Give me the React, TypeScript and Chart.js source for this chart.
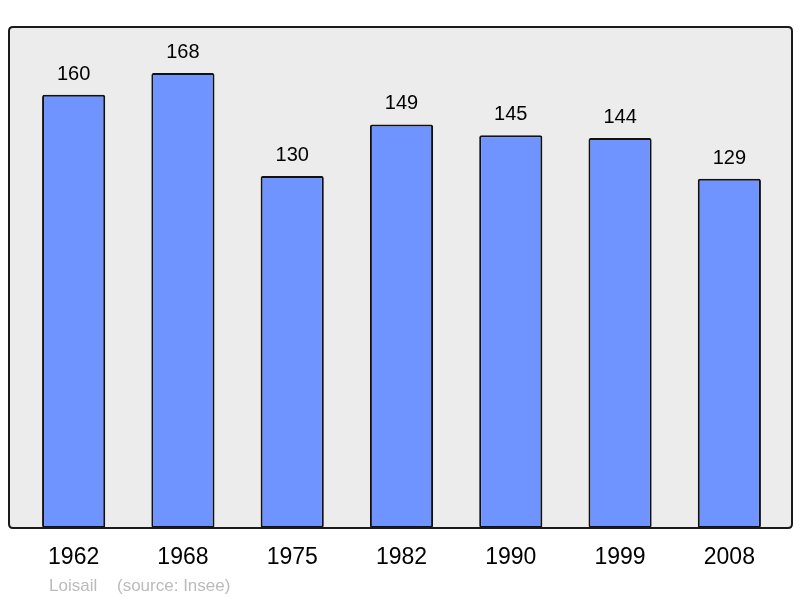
import React, { useEffect, useRef } from "react";
import { Chart, registerables } from "chart.js";

Chart.register(...registerables);

const years = ["1962", "1968", "1975", "1982", "1990", "1999", "2008"];
const population = [160, 168, 130, 149, 145, 144, 129];
const footerAuthor = "Loisail";
const footerSource = "(source: Insee)";

function framePath(ctx: any, x0: number, y0: number, x1: number, y1: number, r: number) {
  ctx.beginPath();
  ctx.moveTo(x0 + r, y0);
  ctx.lineTo(x1 - r, y0);
  ctx.quadraticCurveTo(x1, y0, x1, y0 + r);
  ctx.lineTo(x1, y1 - r);
  ctx.quadraticCurveTo(x1, y1, x1 - r, y1);
  ctx.lineTo(x0 + r, y1);
  ctx.quadraticCurveTo(x0, y1, x0, y1 - r);
  ctx.lineTo(x0, y0 + r);
  ctx.quadraticCurveTo(x0, y0, x0 + r, y0);
  ctx.closePath();
}

const framePlugin = {
  id: "frame",
  beforeDraw(chart: any) {
    const { ctx, chartArea } = chart;
    ctx.save();
    framePath(ctx, 9, 27, 792, chartArea.bottom, 4);
    ctx.fillStyle = "#ececec";
    ctx.fill();
    ctx.restore();
  },
  afterDatasetsDraw(chart: any) {
    const { ctx, chartArea } = chart;
    ctx.save();
    framePath(ctx, 9, 27, 792, chartArea.bottom, 4);
    ctx.lineWidth = 2;
    ctx.strokeStyle = "#1a1a1a";
    ctx.stroke();

    const meta = chart.getDatasetMeta(0);
    ctx.fillStyle = "#000";
    ctx.font = "20px 'Liberation Sans', Arial, sans-serif";
    ctx.textAlign = "center";
    ctx.textBaseline = "alphabetic";
    meta.data.forEach((bar: any, i: number) => {
      ctx.fillText(String(population[i]), bar.x, bar.y - 15);
    });

    ctx.fillStyle = "#bbbbbb";
    ctx.font = "17px 'Liberation Sans', Arial, sans-serif";
    ctx.textAlign = "left";
    ctx.textBaseline = "alphabetic";
    ctx.fillText(footerAuthor, 49, 591);
    ctx.fillText(footerSource, 117, 591);
    ctx.restore();
  },
};

export default function App() {
  const ref = useRef<HTMLCanvasElement | null>(null);
  useEffect(() => {
    if (!ref.current) return;
    const chart = new Chart(ref.current, {
      type: "bar",
      data: {
        labels: years,
        datasets: [
          {
            data: population,
            backgroundColor: "#7094ff",
            borderColor: "#111111",
            borderWidth: 2,
            borderSkipped: false,
            borderRadius: 2,
            barPercentage: 0.578,
            categoryPercentage: 1,
          },
        ],
      },
      options: {
        animation: false,
        responsive: false,
        maintainAspectRatio: false,
        layout: { padding: { left: 19, right: 16, top: 27, bottom: 0 } },
        plugins: {
          legend: { display: false },
          tooltip: { enabled: false },
          title: { display: false },
        },
        scales: {
          x: {
            grid: { display: false },
            border: { display: false },
            ticks: {
              color: "#000",
              padding: 8,
              font: { family: "'Liberation Sans', Arial, sans-serif", size: 23 },
            },
            afterFit: (scale: any) => {
              scale.height = 70;
            },
          },
          y: {
            display: false,
            min: 0,
            max: 185,
          },
        },
      },
      plugins: [framePlugin],
    });
    return () => chart.destroy();
  }, []);
  return (
    <div style={{ position: "fixed", left: 0, top: 0, width: 800, height: 598, background: "#fff" }}>
      <canvas ref={ref} width={800} height={598} />
    </div>
  );
}
